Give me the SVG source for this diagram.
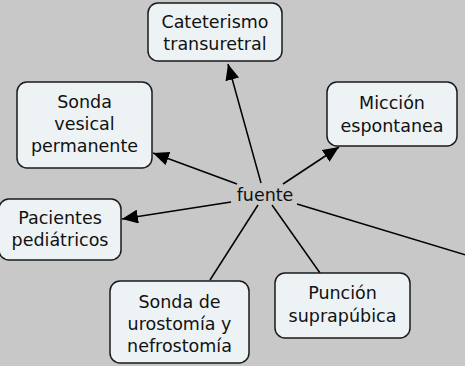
<svg xmlns="http://www.w3.org/2000/svg" width="465" height="366" viewBox="0 0 465 366">
<style>
.n rect{fill:#edf3f5;stroke:#1a1a1a;stroke-width:1.5}
text{font-family:"DejaVu Sans",Verdana,sans-serif;font-size:17.5px;fill:#111;text-anchor:middle}
.c line{stroke:#000;stroke-width:1.5}
</style>
<defs>
<marker id="a" markerUnits="userSpaceOnUse" markerWidth="18" markerHeight="14" refX="16" refY="7" orient="auto">
<path d="M0,0 L16,7 L0,14 z" fill="#000"/>
</marker>
</defs>
<rect width="465" height="366" fill="#c8c8c8"/>
<g class="c">
<line x1="261" y1="183" x2="228" y2="64" marker-end="url(#a)"/>
<line x1="237" y1="184" x2="153" y2="153" marker-end="url(#a)"/>
<line x1="283" y1="184" x2="339" y2="147" marker-end="url(#a)"/>
<line x1="231" y1="202" x2="122" y2="219" marker-end="url(#a)"/>
<line x1="297" y1="204" x2="466" y2="255"/>
<line x1="258" y1="205" x2="210" y2="280"/>
<line x1="272" y1="205" x2="320" y2="273"/>
</g>
<g id="fuente"><text x="265" y="201">fuente</text></g>
<g id="cateterismo" class="n"><rect x="148" y="3" width="134" height="58" rx="10"/>
<text x="215" y="28">Cateterismo</text><text x="215" y="50">transuretral</text></g>
<g id="sonda-vesical" class="n"><rect x="17" y="82" width="135" height="86" rx="10"/>
<text x="84.5" y="108">Sonda</text><text x="84.5" y="130">vesical</text><text x="84.5" y="152">permanente</text></g>
<g id="miccion" class="n"><rect x="327" y="82" width="130" height="64" rx="10"/>
<text x="392" y="109">Micción</text><text x="392" y="132">espontanea</text></g>
<g id="pacientes" class="n"><rect x="-1" y="199" width="122" height="61" rx="10"/>
<text x="60" y="224">Pacientes</text><text x="60" y="246">pediátricos</text></g>
<g id="urostomia" class="n"><rect x="110" y="281" width="139" height="82" rx="10"/>
<text x="179.5" y="308">Sonda de</text><text x="179.5" y="330">urostomía y</text><text x="179.5" y="352">nefrostomía</text></g>
<g id="puncion" class="n"><rect x="275" y="273" width="135" height="65" rx="10"/>
<text x="342.5" y="299">Punción</text><text x="342.5" y="322">suprapúbica</text></g>
</svg>
